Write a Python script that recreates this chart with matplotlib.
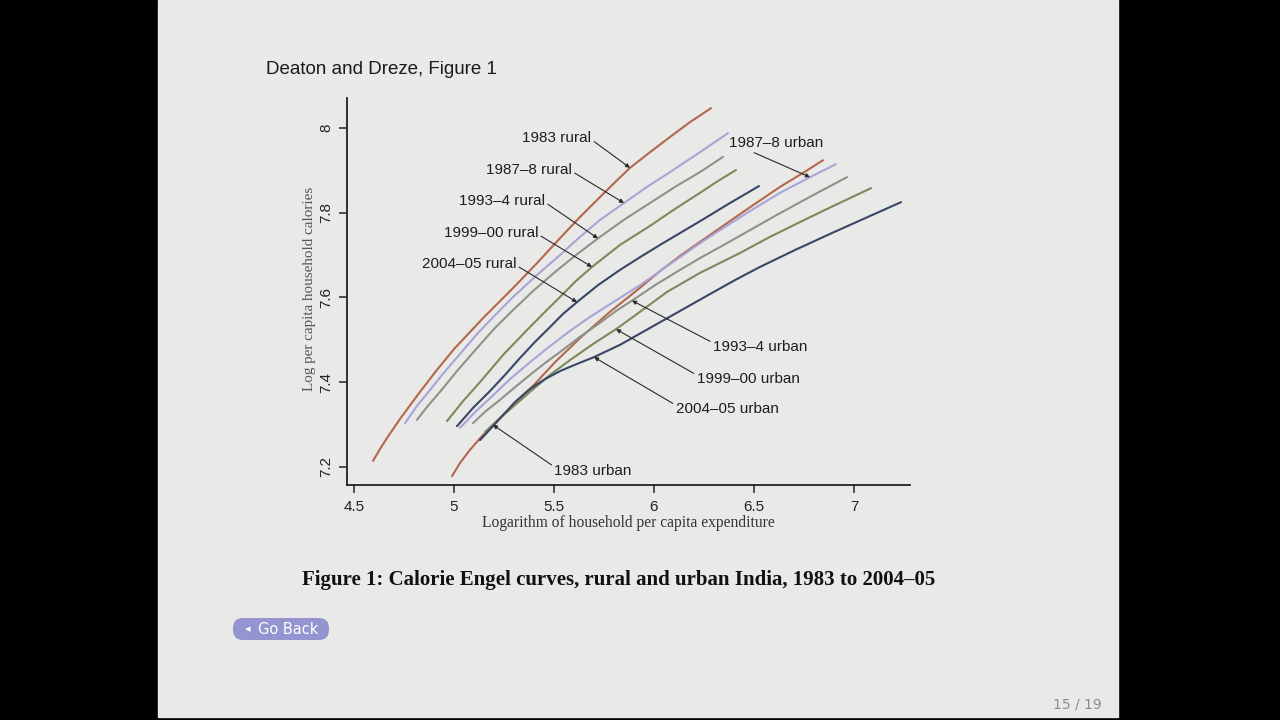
import numpy as np
import matplotlib.pyplot as plt
from matplotlib.patches import Rectangle, FancyBboxPatch
from matplotlib.transforms import IdentityTransform

# Calorie Engel curves:
# x = log household per capita expenditure, y = log per capita household calories
rural_1983_x = [4.595, 4.63, 4.665, 4.73, 4.83, 4.915, 5.0, 5.145, 5.295, 5.415, 5.53,
                5.63, 5.73, 5.805, 5.88, 5.98, 6.08, 6.18, 6.285]
rural_1983_y = [7.214, 7.242, 7.268, 7.313, 7.377, 7.429, 7.478, 7.551, 7.622, 7.681, 7.740,
                7.790, 7.837, 7.872, 7.906, 7.943, 7.979, 8.014, 8.047]

rural_1987_x = [4.755, 4.815, 4.88, 4.94, 5.0, 5.12, 5.205, 5.295, 5.415, 5.53, 5.63,
                5.73, 5.85, 5.965, 6.08, 6.23, 6.37]
rural_1987_y = [7.303, 7.344, 7.381, 7.417, 7.450, 7.516, 7.558, 7.601, 7.653, 7.700, 7.743,
                7.783, 7.823, 7.861, 7.896, 7.943, 7.988]

rural_1993_x = [4.815, 4.87, 4.93, 5.02, 5.12, 5.205, 5.295, 5.395, 5.505, 5.615, 5.73,
                5.855, 5.98, 6.105, 6.23, 6.345]
rural_1993_y = [7.311, 7.344, 7.377, 7.429, 7.483, 7.528, 7.570, 7.615, 7.660, 7.702, 7.743,
                7.785, 7.823, 7.861, 7.896, 7.932]

rural_1999_x = [4.965, 5.045, 5.13, 5.245, 5.365, 5.455, 5.53, 5.61, 5.69, 5.83, 5.98,
                6.105, 6.23, 6.32, 6.41]
rural_1999_y = [7.308, 7.355, 7.400, 7.464, 7.523, 7.566, 7.601, 7.639, 7.672, 7.724, 7.769,
                7.809, 7.847, 7.875, 7.901]

rural_2004_x = [5.015, 5.095, 5.18, 5.255, 5.33, 5.405, 5.48, 5.545, 5.615, 5.72, 5.83,
                5.93, 6.03, 6.13, 6.23, 6.38, 6.525]
rural_2004_y = [7.296, 7.339, 7.379, 7.417, 7.457, 7.495, 7.530, 7.561, 7.589, 7.629, 7.665,
                7.695, 7.724, 7.752, 7.780, 7.823, 7.863]

urban_1983_x = [4.99, 5.03, 5.08, 5.135, 5.195, 5.295, 5.395, 5.505, 5.63, 5.78, 5.915,
                6.03, 6.13, 6.23, 6.33, 6.48, 6.63, 6.745, 6.845]
urban_1983_y = [7.178, 7.209, 7.240, 7.270, 7.299, 7.346, 7.391, 7.447, 7.504, 7.566, 7.617,
                7.662, 7.698, 7.731, 7.764, 7.813, 7.861, 7.894, 7.924]

urban_1987_x = [5.03, 5.105, 5.18, 5.28, 5.38, 5.48, 5.58, 5.68, 5.78, 5.93, 6.03,
                6.13, 6.23, 6.33, 6.48, 6.63, 6.78, 6.91]
urban_1987_y = [7.292, 7.329, 7.362, 7.407, 7.447, 7.485, 7.521, 7.554, 7.584, 7.629, 7.662,
                7.695, 7.728, 7.759, 7.804, 7.847, 7.884, 7.915]

urban_1993_x = [5.095, 5.16, 5.23, 5.305, 5.38, 5.455, 5.53, 5.63, 5.73, 5.81, 5.895,
                6.005, 6.13, 6.23, 6.33, 6.48, 6.63, 6.805, 6.965]
urban_1993_y = [7.303, 7.332, 7.358, 7.388, 7.417, 7.445, 7.471, 7.507, 7.540, 7.568, 7.594,
                7.629, 7.665, 7.693, 7.719, 7.759, 7.799, 7.844, 7.884]

urban_1999_x = [5.155, 5.23, 5.305, 5.38, 5.48, 5.58, 5.695, 5.81, 5.93, 6.065, 6.23,
                6.43, 6.58, 6.73, 6.905, 7.085]
urban_1999_y = [7.282, 7.315, 7.346, 7.377, 7.417, 7.452, 7.490, 7.525, 7.566, 7.613, 7.658,
                7.705, 7.743, 7.778, 7.818, 7.858]

urban_2004_x = [5.13, 5.195, 5.255, 5.305, 5.38, 5.455, 5.53, 5.615, 5.70, 5.83, 5.98,
                6.13, 6.28, 6.405, 6.53, 6.705, 6.88, 7.055, 7.235]
urban_2004_y = [7.263, 7.296, 7.327, 7.353, 7.384, 7.407, 7.426, 7.443, 7.459, 7.488, 7.528,
                7.568, 7.608, 7.641, 7.672, 7.712, 7.750, 7.787, 7.825]

x_ticks = [4.5, 5, 5.5, 6, 6.5, 7]
x_ticklabels = ['4.5', '5', '5.5', '6', '6.5', '7']
y_ticks = [7.2, 7.4, 7.6, 7.8, 8]
y_ticklabels = ['7.2', '7.4', '7.6', '7.8', '8']

# one colour per survey round
colors = {'1983': '#b3674c', '1987': '#a8a4d8', '1993': '#8d9389',
          '1999': '#7d895a', '2004': '#384766'}

curves = [
    ('1983 rural', rural_1983_x, rural_1983_y, colors['1983']),
    ('1987–8 rural', rural_1987_x, rural_1987_y, colors['1987']),
    ('1993–4 rural', rural_1993_x, rural_1993_y, colors['1993']),
    ('1999–00 rural', rural_1999_x, rural_1999_y, colors['1999']),
    ('2004–05 rural', rural_2004_x, rural_2004_y, colors['2004']),
    ('1983 urban', urban_1983_x, urban_1983_y, colors['1983']),
    ('1987–8 urban', urban_1987_x, urban_1987_y, colors['1987']),
    ('1993–4 urban', urban_1993_x, urban_1993_y, colors['1993']),
    ('1999–00 urban', urban_1999_x, urban_1999_y, colors['1999']),
    ('2004–05 urban', urban_2004_x, urban_2004_y, colors['2004']),
]

# label placement: where the arrow hits the curve (x), text centre, start point on text box
label_tip_x = {'1983 rural': 5.88, '1987–8 rural': 5.85, '1993–4 rural': 5.72,
               '1999–00 rural': 5.69, '2004–05 rural': 5.615, '1983 urban': 5.195,
               '1987–8 urban': 6.78, '1993–4 urban': 5.89, '1999–00 urban': 5.81,
               '2004–05 urban': 5.70}
label_text_xy = {'1983 rural': (5.515, 7.976), '1987–8 rural': (5.375, 7.901),
                 '1993–4 rural': (5.24, 7.828), '1999–00 rural': (5.185, 7.752),
                 '2004–05 rural': (5.075, 7.679), '1983 urban': (5.695, 7.190),
                 '1987–8 urban': (6.61, 7.965), '1993–4 urban': (6.53, 7.483),
                 '1999–00 urban': (6.47, 7.407), '2004–05 urban': (6.365, 7.336)}
label_relpos = {'1987–8 urban': (0.2, 0.0)}

fig = plt.figure(figsize=(12.8, 7.2), dpi=100, facecolor='black')

# the slide itself
fig.add_artist(Rectangle((158 / 1280, 3 / 720), 960 / 1280, 717 / 720,
                         transform=fig.transFigure, color='#e9e9e7', zorder=0))

ax = fig.add_axes([347 / 1280, 235 / 720, 563 / 1280, 387 / 720])
ax.set_facecolor('none')

for name, xs, ys, col in curves:
    ax.plot(xs, ys, color=col, lw=1.5, solid_capstyle='round', solid_joinstyle='round')

for name, xs, ys, col in curves:
    tx = label_tip_x[name]
    ty = np.interp(tx, xs, ys)
    if name.endswith('rural'):
        rel = (1.0, 0.4)
    else:
        rel = label_relpos.get(name, (0.0, 0.8))
    ax.annotate(name, xy=(tx, ty), xytext=label_text_xy[name],
                ha='center', va='center', fontsize=11, color='#1e1e1e',
                family='Liberation Sans',
                arrowprops=dict(arrowstyle='-|>', lw=0.8, color='#2a2a2a',
                                mutation_scale=6, shrinkA=0, shrinkB=0,
                                relpos=rel))

ax.set_xlim(4.465, 7.28)
ax.set_ylim(7.157, 8.071)
ax.set_xticks(x_ticks)
ax.set_xticklabels(x_ticklabels, family='Liberation Sans', fontsize=11, color='#222222')
ax.set_yticks(y_ticks)
ax.set_yticklabels(y_ticklabels, family='Liberation Sans', fontsize=11, color='#222222',
                   rotation=90, va='center')
ax.tick_params(direction='out', length=6, width=1.1, color='#222222')
ax.tick_params(axis='x', pad=5)
ax.tick_params(axis='y', pad=4)
for side in ['top', 'right']:
    ax.spines[side].set_visible(False)
for side in ['left', 'bottom']:
    ax.spines[side].set_linewidth(1.3)
    ax.spines[side].set_color('#222222')

ax.set_xlabel('Logarithm of household per capita expenditure', family='Liberation Serif',
              fontsize=11.2, color='#333333', va='center')
ax.xaxis.set_label_coords(0.499, -0.098)
ax.set_ylabel('Log per capita household calories', family='Liberation Serif',
              fontsize=10.9, color='#555555', va='center')
ax.yaxis.set_label_coords(-0.066, 0.506)

# slide title, caption, navigation
fig.text(266 / 1280, 1 - 69 / 720, 'Deaton and Dreze, Figure 1', ha='left', va='center',
         fontsize=13.5, family='Liberation Sans', color='#1a1a1a')
fig.text(619 / 1280, 1 - 580 / 720,
         'Figure 1: Calorie Engel curves, rural and urban India, 1983 to 2004–05',
         ha='center', va='center', fontsize=15, fontweight='bold',
         family='Liberation Serif', color='#111111')

fig.add_artist(FancyBboxPatch((233, 80), 96, 22, boxstyle='round,pad=0,rounding_size=10',
                              transform=IdentityTransform(), facecolor='#9494d0',
                              edgecolor='none'))
fig.text(248 / 1280, 1 - 629 / 720, '◂', ha='center', va='center', fontsize=8, color='white')
fig.text(288 / 1280, 1 - 629 / 720, 'Go Back', ha='center', va='center', fontsize=10.5,
         color='white', family='DejaVu Sans')
fig.text(1102 / 1280, 1 - 705 / 720, '15 / 19', ha='right', va='center', fontsize=10,
         color='#8a8a8a', family='DejaVu Sans')

fig.savefig('out.png', dpi=100, facecolor=fig.get_facecolor())
